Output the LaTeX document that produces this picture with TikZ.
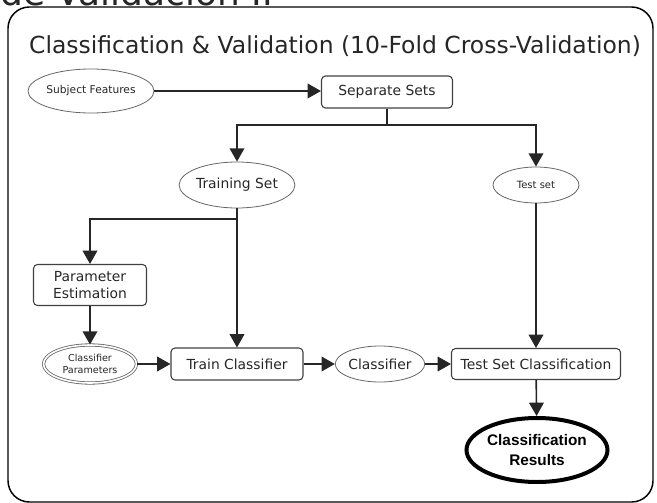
\documentclass[tikz,border=0pt]{standalone}
\usepackage{fontspec}
\setmainfont{DejaVu Sans}
\newfontfamily\arialfont{Liberation Sans}
\usetikzlibrary{arrows.meta,shapes.geometric}
\newdimen\px \px=0.75pt
\tikzset{
  every node/.style={inner sep=0pt, text=black!85},
  box/.style={draw=black!75, line width=0.8pt, rounded corners=3pt, align=center, font=\fontsize{10.4}{12}\selectfont},
  oval/.style={ellipse, draw=black!60, line width=0.6pt, align=center, font=\fontsize{10.4}{12}\selectfont},
  arr/.style={draw=black!85, line width=1.2pt, -{Triangle[length=10pt,width=11pt]}},
}

\begin{document}
\begin{tikzpicture}[x=1\px, y=-1\px]
    \useasboundingbox (0,0) rectangle (657,503);

    % frame and headings
    \node[anchor=base west, font=\fontsize{27}{32}\selectfont] (over) at (0,6) {de Validación II};
    \draw[line width=1.1pt, rounded corners=16pt] (8,7) rectangle (653,502);
    \node[font=\fontsize{17.6}{20}\selectfont, anchor=base] (title) at (335,54) {Classification \& Validation (10-Fold Cross-Validation)};

    \node[oval, minimum width=102\px, minimum height=44\px, font=\fontsize{8}{10}\selectfont] (subj) at (91,91) {Subject Features};
    \node[box, minimum width=131\px, minimum height=32\px] (sep) at (387,92) {Separate Sets};
    \node[oval, minimum width=105\px, minimum height=46\px] (trainset) at (237,185) {Training Set};
    \node[oval, minimum width=86\px, minimum height=36\px, font=\fontsize{7.5}{9}\selectfont] (testset) at (536,185) {Test set};
    \node[box, minimum width=113\px, minimum height=41\px, font=\fontsize{10.4}{13}\selectfont] (paramest) at (90,285) {Parameter\\Estimation};
    \node[oval, double, double distance=1.2pt, minimum width=93\px, minimum height=38\px, font=\fontsize{7.2}{9}\selectfont] (clparams) at (90,364) {Classifier\\Parameters};
    \node[box, minimum width=132\px, minimum height=32\px] (traincl) at (237,364) {Train Classifier};
    \node[oval, minimum width=79\px, minimum height=36\px] (classifier) at (380,364) {Classifier};
    \node[box, minimum width=169\px, minimum height=31\px] (tsc) at (536,364) {Test Set Classification};
    \node[ellipse, draw=black, line width=3pt, minimum width=134\px, minimum height=64\px, align=center, text=black,
          font=\arialfont\bfseries\fontsize{11.5}{15}\selectfont] (results) at (537,450) {Classification\\Results};

    \coordinate (split) at (387,125);
    \coordinate (fork) at (237,219);

    \draw[arr] (subj) -- (subj -| sep.west);
    \draw[arr] (sep) -- (split) -| (trainset);
    \draw[arr] (split) -| (testset);
    \draw[arr] (trainset) -- (traincl);
    \draw[arr] (fork) -| (paramest);
    \draw[arr] (paramest) -- (clparams);
    \draw[arr] (clparams) -- (traincl);
    \draw[arr] (traincl) -- (classifier);
    \draw[arr] (classifier) -- (tsc);
    \draw[arr] (testset) -- (tsc);
    \draw[arr] (tsc) -- (results);
\end{tikzpicture}
\end{document}
